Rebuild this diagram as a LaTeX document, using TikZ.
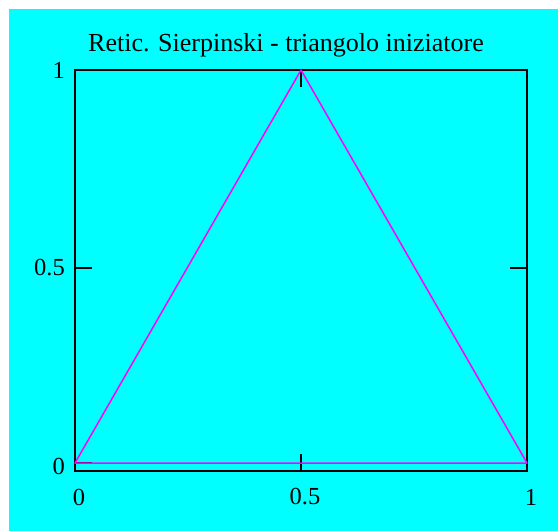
\documentclass[tikz,border=0pt]{standalone}
\usepackage{fontspec}
\setmainfont{Liberation Serif}
\usetikzlibrary{positioning}
\definecolor{PlotCyan}{HTML}{00FFFF}
\definecolor{PlotMagenta}{HTML}{FF00FF}
\definecolor{PlotBlack}{HTML}{000000}
\tikzset{
    % Plot frame
    plotframe/.style={
        draw=PlotBlack,
        line width=2pt
    },
    % Tick marks
    tickline/.style={
        draw=PlotBlack,
        line width=2pt
    },
    % Tick labels
    ticklabel/.style={
        inner sep=0pt,
        font=\fontsize{24.5}{24.5}\selectfont
    },
    % Title
    titlenode/.style={
        inner sep=0pt,
        anchor=base,
        font=\fontsize{26}{26}\selectfont
    },
    % Curve
    curveline/.style={
        draw=PlotMagenta,
        line width=1.5pt,
        line join=round
    }
}
\begin{document}
\begin{tikzpicture}[x=1pt,y=-1pt]
    \useasboundingbox (0,0) rectangle (558,531);
    \fill[PlotCyan] (9,9) rectangle (558,531);

    % frame corners
    \coordinate (tl) at (75,70);
    \coordinate (br) at (527,471);
    \draw[plotframe] (tl) rectangle (br);

    % ticks
    \coordinate (l1) at (75,70);   \coordinate (l1e) at (92,70);
    \coordinate (lh) at (75,268);  \coordinate (lhe) at (92,268);
    \coordinate (l0) at (75,463);  \coordinate (l0e) at (92,463);
    \coordinate (r1) at (527,70);  \coordinate (r1e) at (510,70);
    \coordinate (rh) at (527,268); \coordinate (rhe) at (510,268);
    \coordinate (bh) at (301,471); \coordinate (bhe) at (301,454);
    \coordinate (th) at (301,70);  \coordinate (the) at (301,87);
    \draw[tickline] (l1) -- (l1e);
    \draw[tickline] (lh) -- (lhe);
    \draw[tickline] (l0) -- (l0e);
    \draw[tickline] (r1) -- (r1e);
    \draw[tickline] (rh) -- (rhe);
    \draw[tickline] (bh) -- (bhe);
    \draw[tickline] (th) -- (the);

    % triangle
    \coordinate (a) at (75,463);
    \coordinate (b) at (301,70);
    \coordinate (c) at (527,463);
    \draw[curveline] (a) -- (b) -- (c) -- cycle;

    % labels
    \node[titlenode] (title) at (286,51) {Retic. Sierpinski - triangolo iniziatore};
    \node[ticklabel, anchor=east] (y1) at (65,70) {1};
    \node[ticklabel, anchor=east] (yh) at (65,268) {0.5};
    \node[ticklabel, anchor=east] (y0) at (65,466) {0};
    \node[ticklabel] (x0) at (79,497) {0};
    \node[ticklabel] (xh) at (305,497) {0.5};
    \node[ticklabel] (x1) at (531,497) {1};
\end{tikzpicture}
\end{document}
